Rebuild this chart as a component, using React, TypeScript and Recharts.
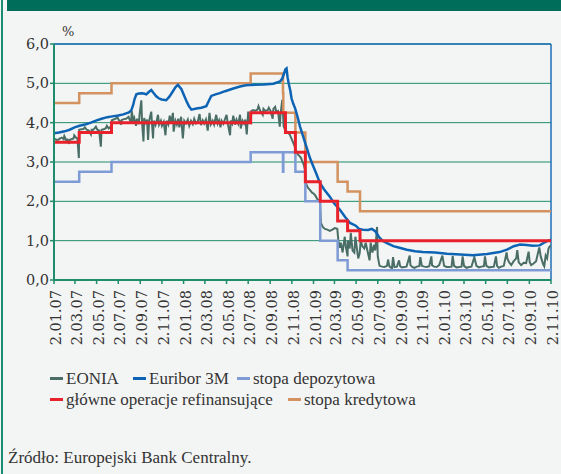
import React from 'react';
import { LineChart, Line, XAxis, YAxis, CartesianGrid, ReferenceLine } from 'recharts';

type Pt = [string, number]; // 'YY-MM-DD', value in %

const tickLabels = [
  '2.01.07', '2.03.07', '2.05.07', '2.07.07', '2.09.07', '2.11.07',
  '2.01.08', '2.03.08', '2.05.08', '2.07.08', '2.09.08', '2.11.08',
  '2.01.09', '2.03.09', '2.05.09', '2.07.09', '2.09.09', '2.11.09',
  '2.01.10', '2.03.10', '2.05.10', '2.07.10', '2.09.10', '2.11.10',
];
const yTicks = [0, 1, 2, 3, 4, 5, 6];

const mainRefiRate: Pt[] = [
  ['07-01-02', 3.5], ['07-03-14', 3.75], ['07-06-13', 4.0], ['08-07-09', 4.25],
  ['08-10-15', 3.75], ['08-11-12', 3.25], ['08-12-10', 2.5], ['09-01-21', 2.0],
  ['09-03-11', 1.5], ['09-04-08', 1.25], ['09-05-13', 1.0], ['10-11-02', 1.0],
];
const depositRate: Pt[] = [
  ['07-01-02', 2.5], ['07-03-14', 2.75], ['07-06-13', 3.0], ['08-07-09', 3.25],
  ['08-10-08', 2.75], ['08-10-09', 3.25], ['08-11-12', 2.75], ['08-12-10', 2.0],
  ['09-01-21', 1.0], ['09-03-11', 0.5], ['09-04-08', 0.25], ['10-11-02', 0.25],
];
const lendingRate: Pt[] = [
  ['07-01-02', 4.5], ['07-03-14', 4.75], ['07-06-13', 5.0], ['08-07-09', 5.25],
  ['08-10-08', 4.75], ['08-10-09', 4.25], ['08-11-12', 3.75], ['08-12-10', 3.0],
  ['09-03-11', 2.5], ['09-04-08', 2.25], ['09-05-13', 1.75], ['10-11-02', 1.75],
];

const euribor3m: Pt[] = [
  ['07-01-02', 3.73], ['07-01-16', 3.75], ['07-02-01', 3.78], ['07-02-15', 3.82], ['07-03-01', 3.88],
  ['07-03-15', 3.92], ['07-04-02', 3.96], ['07-04-16', 4.0], ['07-05-02', 4.06], ['07-05-16', 4.1],
  ['07-06-01', 4.14], ['07-06-15', 4.16], ['07-07-02', 4.18], ['07-07-16', 4.21], ['07-08-01', 4.26],
  ['07-08-08', 4.32], ['07-08-13', 4.45], ['07-08-17', 4.6], ['07-08-22', 4.72], ['07-08-29', 4.74],
  ['07-09-05', 4.75], ['07-09-12', 4.74], ['07-09-19', 4.72], ['07-09-26', 4.78], ['07-10-03', 4.83],
  ['07-10-10', 4.75], ['07-10-17', 4.67], ['07-10-24', 4.62], ['07-11-01', 4.59], ['07-11-14', 4.57],
  ['07-11-23', 4.66], ['07-12-03', 4.8], ['07-12-10', 4.9], ['07-12-17', 4.96], ['07-12-27', 4.85],
  ['08-01-04', 4.68], ['08-01-10', 4.55], ['08-01-17', 4.42], ['08-01-24', 4.33], ['08-02-07', 4.36],
  ['08-02-21', 4.38], ['08-03-06', 4.42], ['08-03-13', 4.55], ['08-03-20', 4.68], ['08-04-01', 4.72],
  ['08-04-13', 4.75], ['08-04-28', 4.8], ['08-05-21', 4.87], ['08-06-09', 4.92], ['08-06-25', 4.95],
  ['08-07-07', 4.96], ['08-08-14', 4.97], ['08-09-11', 4.99], ['08-09-30', 5.05], ['08-10-06', 5.12],
  ['08-10-11', 5.25], ['08-10-15', 5.36], ['08-10-18', 5.38], ['08-10-21', 5.15], ['08-10-24', 5.0],
  ['08-10-29', 4.8], ['08-11-01', 4.62], ['08-11-06', 4.48], ['08-11-11', 4.37], ['08-11-18', 4.15],
  ['08-11-25', 3.9], ['08-12-02', 3.7], ['08-12-09', 3.5], ['08-12-16', 3.3], ['08-12-23', 3.1],
  ['09-01-01', 2.9], ['09-01-10', 2.7], ['09-01-20', 2.47], ['09-02-01', 2.3], ['09-02-17', 2.12],
  ['09-03-01', 1.95], ['09-03-18', 1.78], ['09-04-01', 1.6], ['09-04-15', 1.45], ['09-05-01', 1.38],
  ['09-05-10', 1.3], ['09-05-21', 1.28], ['09-06-05', 1.27], ['09-06-15', 1.3], ['09-06-25', 1.24],
  ['09-07-05', 1.1], ['09-07-15', 1.0], ['09-07-28', 0.94], ['09-08-15', 0.86], ['09-09-01', 0.82],
  ['09-09-22', 0.77], ['09-10-15', 0.73], ['09-11-06', 0.71], ['09-12-10', 0.7], ['10-01-13', 0.67],
  ['10-02-20', 0.65], ['10-03-27', 0.63], ['10-05-06', 0.66], ['10-06-10', 0.71], ['10-07-01', 0.77],
  ['10-07-20', 0.86], ['10-08-07', 0.9], ['10-08-25', 0.89], ['10-09-12', 0.87], ['10-10-01', 0.88],
  ['10-10-12', 0.94], ['10-10-22', 0.99], ['10-11-02', 1.02],
];

const eonia: Pt[] = [
  ['07-01-02', 3.6], ['07-01-05', 3.58], ['07-01-10', 3.56], ['07-01-15', 3.57], ['07-01-19', 3.6],
  ['07-01-24', 3.62], ['07-01-29', 3.58], ['07-01-31', 3.66], ['07-02-05', 3.56], ['07-02-09', 3.57],
  ['07-02-13', 3.46], ['07-02-15', 3.56], ['07-02-20', 3.58], ['07-02-26', 3.6], ['07-02-28', 3.68],
  ['07-03-05', 3.62], ['07-03-09', 3.6], ['07-03-13', 3.1], ['07-03-14', 3.82], ['07-03-20', 3.83],
  ['07-03-26', 3.84], ['07-03-30', 3.88], ['07-04-04', 3.82], ['07-04-10', 3.8], ['07-04-16', 3.7],
  ['07-04-18', 3.82], ['07-04-23', 3.82], ['07-04-30', 3.9], ['07-05-04', 3.82], ['07-05-09', 3.8],
  ['07-05-14', 3.39], ['07-05-16', 3.82], ['07-05-22', 3.83], ['07-05-28', 3.86], ['07-05-31', 3.92],
  ['07-06-05', 3.85], ['07-06-11', 3.9], ['07-06-14', 4.06], ['07-06-19', 4.08], ['07-06-25', 4.1],
  ['07-06-29', 4.15], ['07-07-03', 4.07], ['07-07-06', 4.05], ['07-07-10', 3.95], ['07-07-12', 4.07],
  ['07-07-18', 4.09], ['07-07-24', 4.1], ['07-07-31', 4.15], ['07-08-03', 4.08], ['07-08-07', 3.98],
  ['07-08-09', 4.3], ['07-08-13', 4.05], ['07-08-16', 4.12], ['07-08-21', 3.92], ['07-08-24', 4.1],
  ['07-08-29', 3.96], ['07-08-31', 4.2], ['07-09-05', 4.57], ['07-09-07', 4.02], ['07-09-11', 3.52],
  ['07-09-13', 4.12], ['07-09-18', 3.96], ['07-09-21', 4.08], ['07-09-24', 3.56], ['07-09-27', 4.05],
  ['07-10-03', 4.28], ['07-10-05', 3.98], ['07-10-08', 3.6], ['07-10-10', 4.05], ['07-10-15', 3.94],
  ['07-10-19', 4.08], ['07-10-22', 4.2], ['07-10-25', 3.95], ['07-10-30', 4.05], ['07-11-02', 3.92],
  ['07-11-07', 4.02], ['07-11-12', 3.68], ['07-11-15', 4.05], ['07-11-20', 3.95], ['07-11-24', 4.18],
  ['07-11-28', 4.0], ['07-12-03', 4.25], ['07-12-05', 3.77], ['07-12-10', 4.05], ['07-12-14', 3.95],
  ['07-12-18', 4.1], ['07-12-21', 3.88], ['07-12-26', 4.15], ['07-12-31', 3.6], ['08-01-04', 4.05],
  ['08-01-09', 3.98], ['08-01-14', 4.08], ['08-01-18', 3.92], ['08-01-23', 4.05], ['08-01-28', 3.96],
  ['08-02-01', 4.1], ['08-02-06', 3.98], ['08-02-11', 4.03], ['08-02-16', 4.22], ['08-02-20', 3.94],
  ['08-02-25', 4.06], ['08-02-29', 3.98], ['08-03-05', 4.08], ['08-03-10', 3.8], ['08-03-15', 4.25],
  ['08-03-19', 3.96], ['08-03-24', 4.05], ['08-03-28', 3.95], ['08-04-03', 4.2], ['08-04-07', 3.98],
  ['08-04-11', 4.06], ['08-04-15', 3.88], ['08-04-18', 4.05], ['08-04-23', 3.97], ['08-04-28', 4.1],
  ['08-05-02', 4.2], ['08-05-06', 3.96], ['08-05-12', 3.68], ['08-05-14', 4.06], ['08-05-18', 3.98],
  ['08-05-21', 4.18], ['08-05-26', 3.95], ['08-05-30', 4.08], ['08-06-04', 3.97], ['08-06-09', 4.2],
  ['08-06-11', 3.85], ['08-06-16', 4.05], ['08-06-20', 3.98], ['08-06-24', 4.08], ['08-06-28', 3.7],
  ['08-07-02', 4.28], ['08-07-04', 4.05], ['08-07-09', 4.0], ['08-07-11', 4.3], ['08-07-16', 4.32],
  ['08-07-22', 4.3], ['08-07-28', 4.33], ['08-07-31', 4.42], ['08-08-05', 4.3], ['08-08-12', 4.2],
  ['08-08-14', 4.35], ['08-08-19', 4.3], ['08-08-26', 4.32], ['08-08-29', 4.38], ['08-09-03', 4.3],
  ['08-09-09', 4.1], ['08-09-11', 4.35], ['08-09-16', 4.4], ['08-09-19', 4.28], ['08-09-24', 4.3],
  ['08-09-29', 3.9], ['08-10-01', 4.2], ['08-10-06', 4.58], ['08-10-08', 4.25], ['08-10-10', 3.9],
  ['08-10-14', 3.82], ['08-10-20', 3.76], ['08-10-27', 3.7], ['08-11-03', 3.55], ['08-11-10', 3.4],
  ['08-11-13', 3.3], ['08-11-18', 3.2], ['08-11-24', 3.15], ['08-11-28', 3.1], ['08-12-02', 3.0],
  ['08-12-05', 2.95], ['08-12-09', 2.8], ['08-12-12', 2.45], ['08-12-17', 2.35], ['08-12-22', 2.3],
  ['08-12-29', 2.22], ['09-01-02', 2.2], ['09-01-07', 2.15], ['09-01-13', 2.05], ['09-01-20', 2.0],
  ['09-01-23', 1.45], ['09-01-28', 1.35], ['09-02-03', 1.3], ['09-02-10', 1.28], ['09-02-17', 1.25],
  ['09-02-24', 1.28], ['09-03-03', 1.32], ['09-03-10', 1.3], ['09-03-13', 1.0], ['09-03-17', 0.82],
  ['09-03-20', 0.95], ['09-03-25', 0.7], ['09-03-31', 1.1], ['09-04-03', 0.85], ['09-04-08', 0.6],
  ['09-04-09', 1.0], ['09-04-14', 0.8], ['09-04-17', 1.2], ['09-04-22', 0.75], ['09-04-27', 0.7],
  ['09-04-30', 1.1], ['09-05-05', 0.75], ['09-05-08', 0.55], ['09-05-12', 0.68], ['09-05-15', 1.0],
  ['09-05-20', 0.85], ['09-05-25', 0.8], ['09-05-29', 0.95], ['09-06-02', 0.78], ['09-06-09', 0.5],
  ['09-06-12', 0.95], ['09-06-17', 0.7], ['09-06-22', 0.9], ['09-06-25', 0.75], ['09-06-30', 1.35],
  ['09-07-02', 0.6], ['09-07-07', 0.36], ['09-07-14', 0.34], ['09-07-21', 0.33], ['09-07-28', 0.36],
  ['09-07-31', 0.52], ['09-08-04', 0.34], ['09-08-11', 0.3], ['09-08-14', 0.58], ['09-08-18', 0.33],
  ['09-08-25', 0.34], ['09-08-31', 0.5], ['09-09-03', 0.35], ['09-09-08', 0.32], ['09-09-14', 0.33],
  ['09-09-21', 0.34], ['09-09-30', 0.62], ['09-10-02', 0.38], ['09-10-07', 0.33], ['09-10-13', 0.31],
  ['09-10-20', 0.34], ['09-10-27', 0.35], ['09-10-30', 0.58], ['09-11-03', 0.36], ['09-11-10', 0.34],
  ['09-11-17', 0.33], ['09-11-24', 0.35], ['09-11-30', 0.6], ['09-12-02', 0.37], ['09-12-08', 0.34],
  ['09-12-15', 0.33], ['09-12-22', 0.38], ['09-12-31', 0.62], ['10-01-05', 0.36], ['10-01-12', 0.33],
  ['10-01-19', 0.33], ['10-01-26', 0.34], ['10-01-29', 0.61], ['10-02-02', 0.36], ['10-02-09', 0.32],
  ['10-02-16', 0.33], ['10-02-23', 0.34], ['10-02-26', 0.6], ['10-03-02', 0.36], ['10-03-09', 0.31],
  ['10-03-16', 0.33], ['10-03-23', 0.34], ['10-03-31', 0.58], ['10-04-06', 0.36], ['10-04-13', 0.32],
  ['10-04-20', 0.34], ['10-04-27', 0.35], ['10-04-30', 0.6], ['10-05-04', 0.36], ['10-05-11', 0.32],
  ['10-05-18', 0.33], ['10-05-25', 0.34], ['10-05-31', 0.6], ['10-06-03', 0.36], ['10-06-08', 0.31],
  ['10-06-15', 0.34], ['10-06-22', 0.36], ['10-06-30', 0.7], ['10-07-02', 0.55], ['10-07-07', 0.45],
  ['10-07-13', 0.38], ['10-07-20', 0.48], ['10-07-27', 0.55], ['10-07-30', 0.76], ['10-08-03', 0.45],
  ['10-08-10', 0.38], ['10-08-17', 0.44], ['10-08-24', 0.43], ['10-08-31', 0.72], ['10-09-03', 0.45],
  ['10-09-07', 0.38], ['10-09-14', 0.42], ['10-09-21', 0.48], ['10-09-30', 0.83], ['10-10-04', 0.6],
  ['10-10-11', 0.4], ['10-10-14', 0.35], ['10-10-18', 0.62], ['10-10-22', 0.55], ['10-10-26', 0.8],
  ['10-10-29', 0.85], ['10-11-02', 0.88],
];

const COLORS = {
  eonia: '#4a6e66',
  euribor: '#0e64b4',
  deposit: '#7e9bd6',
  mro: '#e8212b',
  lending: '#d3925f',
};

const toTime = (s: string) => {
  const [y, m, d] = s.split('-').map(Number);
  return Date.UTC(2000 + y, m - 1, d);
};
const labelToTime = (l: string) => {
  const [d, m, y] = l.split('.').map(Number);
  return Date.UTC(2000 + y, m - 1, d);
};
const rows = (pts: Pt[]) => pts.map(([d, v]) => ({ t: toTime(d), v }));

const xTicks = tickLabels.map(labelToTime);
const labelByTime: Record<number, string> = {};
tickLabels.forEach((l) => { labelByTime[labelToTime(l)] = l; });
const xStart = xTicks[0];
const xEnd = xTicks[xTicks.length - 1];

const GREEN = '#1f8c6b';
const BLUE = '#1b6db6';
const SERIF = "'DejaVu Serif', 'Liberation Serif', 'Times New Roman', Tinos, 'Noto Serif', serif";
const TEXT_FONT = "'Liberation Serif', 'Times New Roman', Tinos, 'DejaVu Serif', 'Noto Serif', serif";

const XTick = (props: any) => {
  const { x, y, payload } = props;
  const ax = x + 7;
  const ay = y + 4;
  return (
    <text
      x={ax}
      y={ay}
      transform={`rotate(-90 ${ax} ${ay})`}
      textAnchor="end"
      style={{ fontFamily: SERIF, fontSize: 14.5 }}
      fill="#333"
    >
      {labelByTime[payload.value] ?? ''}
    </text>
  );
};

const legendRow1 = [
  { name: 'EONIA', color: COLORS.eonia, left: 50 },
  { name: 'Euribor 3M', color: COLORS.euribor, left: 133 },
  { name: 'stopa depozytowa', color: COLORS.deposit, left: 237 },
];
const legendRow2 = [
  { name: 'główne operacje refinansujące', color: COLORS.mro, left: 50 },
  { name: 'stopa kredytowa', color: COLORS.lending, left: 288 },
];

const LegendItem = ({ name, color, left, top }: { name: string; color: string; left: number; top: number }) => (
  <div style={{ position: 'absolute', left, top, height: 17, whiteSpace: 'nowrap' }}>
    <div style={{ position: 'absolute', left: 0, top: 7, width: 13, height: 3, background: color }} />
    <span
      style={{
        position: 'absolute',
        left: 16,
        top: 0,
        fontFamily: TEXT_FONT,
        fontSize: 17,
        lineHeight: '17px',
        color: '#333',
      }}
    >
      {name}
    </span>
  </div>
);

export default function App() {
  return (
    <div
      style={{
        position: 'absolute',
        left: 0,
        top: 0,
        width: 561,
        height: 474,
        background: '#f3f5f4',
        overflow: 'hidden',
      }}
    >
      <div style={{ position: 'absolute', left: 7, top: 0, width: 554, height: 11, background: '#006d5a' }} />
      <div style={{ position: 'absolute', left: 1, top: 0, width: 2, height: 474, background: '#1a8d72' }} />

      <div style={{ position: 'absolute', left: 0, top: 0 }}>
        <LineChart width={561} height={474} margin={{ top: 44, right: 10, bottom: 124, left: 0 }}>
          <CartesianGrid vertical={false} stroke={GREEN} strokeWidth={1} />
          <XAxis
            dataKey="t"
            type="number"
            domain={[xStart, xEnd]}
            ticks={xTicks}
            interval={0}
            allowDataOverflow
            height={70}
            tickSize={4}
            tickMargin={2}
            axisLine={{ stroke: GREEN, strokeWidth: 2 }}
            tickLine={{ stroke: GREEN, strokeWidth: 1.5 }}
            tick={<XTick />}
          />
          <YAxis
            type="number"
            domain={[0, 6]}
            ticks={yTicks}
            width={54}
            tickSize={4}
            tickMargin={1}
            axisLine={{ stroke: GREEN, strokeWidth: 2 }}
            tickLine={{ stroke: GREEN, strokeWidth: 1.5 }}
            tick={{ style: { fontFamily: SERIF, fontSize: 14.5 }, fill: '#333' }}
            tickFormatter={(v: number) => v.toFixed(1).replace('.', ',')}
          />
          <ReferenceLine y={6} stroke={BLUE} strokeWidth={1.5} />
          <ReferenceLine x={xEnd} stroke={BLUE} strokeWidth={1.5} />
          <Line
            data={rows(eonia)}
            dataKey="v"
            name="EONIA"
            type="linear"
            stroke={COLORS.eonia}
            strokeWidth={2}
            dot={false}
            isAnimationActive={false}
          />
          <Line
            data={rows(depositRate)}
            dataKey="v"
            name="stopa depozytowa"
            type="stepAfter"
            stroke={COLORS.deposit}
            strokeWidth={2.5}
            dot={false}
            isAnimationActive={false}
          />
          <Line
            data={rows(lendingRate)}
            dataKey="v"
            name="stopa kredytowa"
            type="stepAfter"
            stroke={COLORS.lending}
            strokeWidth={2.5}
            dot={false}
            isAnimationActive={false}
          />
          <Line
            data={rows(euribor3m)}
            dataKey="v"
            name="Euribor 3M"
            type="linear"
            stroke={COLORS.euribor}
            strokeWidth={2.5}
            dot={false}
            isAnimationActive={false}
          />
          <Line
            data={rows(mainRefiRate)}
            dataKey="v"
            name="główne operacje refinansujące"
            type="stepAfter"
            stroke={COLORS.mro}
            strokeWidth={3}
            dot={false}
            isAnimationActive={false}
          />
        </LineChart>
      </div>

      <div
        style={{
          position: 'absolute',
          left: 62,
          top: 25,
          fontFamily: SERIF,
          fontSize: 13,
          lineHeight: '13px',
          color: '#333',
        }}
      >
        %
      </div>

      {legendRow1.map((it) => (
        <LegendItem key={it.name} {...it} top={370} />
      ))}
      {legendRow2.map((it) => (
        <LegendItem key={it.name} {...it} top={391} />
      ))}

      <div
        style={{
          position: 'absolute',
          left: 8,
          top: 449,
          fontFamily: TEXT_FONT,
          fontSize: 17,
          lineHeight: '17px',
          color: '#333',
          whiteSpace: 'nowrap',
        }}
      >
        Źródło: Europejski Bank Centralny.
      </div>
    </div>
  );
}
